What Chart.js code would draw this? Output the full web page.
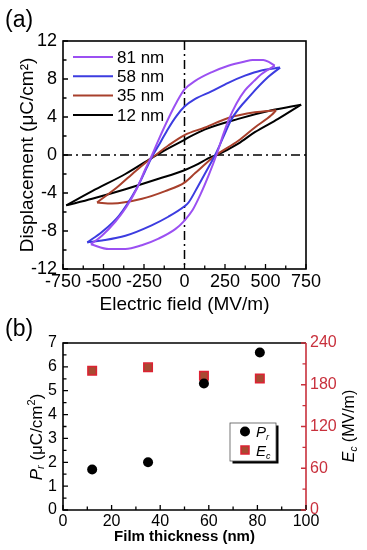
<!DOCTYPE html>
<html>
<head>
<meta charset="utf-8">
<script src="https://cdn.jsdelivr.net/npm/chart.js@4/dist/chart.umd.min.js"></script>
<style>
html,body{margin:0;padding:0;background:#fff;width:367px;height:550px;overflow:hidden}
#ca{position:absolute;left:0;top:0;width:367px;height:316px}
#cb{position:absolute;left:0;top:316px;width:367px;height:234px}
</style>
</head>
<body>
<canvas id="ca" width="367" height="316"></canvas>
<canvas id="cb" width="367" height="234"></canvas>
<script>
const FONT = "'Liberation Sans', Arial, Helvetica, sans-serif";

// ---------- Panel (a): D-E hysteresis loops (field in MV/m, displacement in µC/cm²) ----------
const field81Up   = [557, 520, 486, 420, 373, 270, 166, 66, 0, -47, -98, -160, -200, -242, -293, -360, -426, -510, -578];
const disp81Up    = [9.4, 9.8, 10.0, 10.0, 9.85, 9.4, 8.7, 7.8, 6.9, 5.6, 3.9, 1.6, 0, -1.5, -3.5, -5.5, -7.0, -8.5, -9.4];
const field81Down = [-578, -467, -365, -264, -160, -57, 0, 50, 100, 150, 197, 240, 270, 320, 373, 430, 474, 557];
const disp81Down  = [-9.4, -9.9, -9.9, -9.5, -8.8, -7.8, -6.9, -5.8, -4.1, -2.1, 0, 2.2, 3.6, 5.4, 6.8, 7.8, 8.5, 9.4];

const field58Up   = [590, 474, 373, 270, 166, 66, 0, -50, -100, -150, -195, -221, -295, -405, -510, -600];
const disp58Up    = [9.2, 8.9, 8.35, 7.6, 6.7, 5.9, 5.1, 4.1, 2.8, 1.3, 0, -0.9, -3.5, -6.4, -8.1, -9.2];
const field58Down = [-600, -510, -365, -203, -100, 0, 25, 86, 148, 189, 240, 291, 414, 516, 590];
const disp58Down  = [-9.2, -9.0, -8.5, -7.4, -6.5, -5.4, -5.0, -3.2, -1.3, 0, 1.9, 3.8, 6.4, 8.2, 9.2];

const field35Up   = [565, 434, 270, 127, 0, -100, -178, -221, -303, -416, -540];
const disp35Up    = [4.7, 4.5, 3.9, 2.9, 2.1, 1.0, 0, -0.55, -1.7, -3.4, -5.0];
const field35Down = [-540, -447, -262, -119, 0, 66, 166, 195, 332, 434, 537, 565];
const disp35Down  = [-5.0, -5.1, -4.6, -3.8, -2.9, -1.9, -0.4, 0, 1.5, 2.9, 4.2, 4.7];

const field12Up   = [720, 537, 332, 127, 25, 0, -100, -170, -201, -365, -570, -730];
const disp12Up    = [5.3, 4.7, 3.8, 2.7, 1.85, 1.6, 0.7, 0, -0.3, -2.0, -3.8, -5.3];
const field12Down = [-730, -570, -365, -160, 0, 66, 166, 199, 332, 434, 578, 720];
const disp12Down  = [-5.3, -4.6, -3.6, -2.5, -1.6, -1.1, -0.2, 0, 1.2, 2.4, 3.8, 5.3];

const loopLabels = ['81 nm', '58 nm', '35 nm', '12 nm'];

// ---------- Panel (b): remanent polarisation and coercive field vs thickness ----------
const thickness = [12, 35, 58, 81];
const prValues  = [1.7, 2.0, 5.3, 6.6];
const ecValues  = [200, 205, 193, 189];

// ---------- styles ----------
const loopColors = ['#9b50f2', '#3c3ce0', '#a8402c', '#000000'];
const RED = '#c8303c';

const pts = (xs, ys) => xs.map((x, i) => ({x, y: ys[i]}));
const loopData = [
  [[field81Up, disp81Up], [field81Down, disp81Down]],
  [[field58Up, disp58Up], [field58Down, disp58Down]],
  [[field35Up, disp35Up], [field35Down, disp35Down]],
  [[field12Up, disp12Up], [field12Down, disp12Down]]
];
const dsA = [];
loopData.forEach((branches, li) => {
  branches.forEach((b, bi) => {
    dsA.push({
      label: bi === 0 ? loopLabels[li] : '',
      data: pts(b[0], b[1]),
      borderColor: loopColors[li],
      backgroundColor: loopColors[li],
      borderWidth: 2,
      pointRadius: 0,
      cubicInterpolationMode: 'monotone',
      fill: false
    });
  });
});

function tickValues(min, max, step) {
  const out = [];
  for (let v = min; v <= max + 1e-9; v += step) out.push(+v.toFixed(6));
  return out;
}
function drawTicksX(ctx, scale, bottom, major, minor, color) {
  ctx.strokeStyle = color;
  ctx.lineWidth = 1.3;
  ctx.beginPath();
  tickValues(scale.min, scale.max, minor).forEach(v => {
    const isMajor = Math.abs(v / major - Math.round(v / major)) < 1e-6;
    const len = isMajor ? 5 : 3.5;
    const p = scale.getPixelForValue(v);
    ctx.moveTo(p, bottom); ctx.lineTo(p, bottom - len);
  });
  ctx.stroke();
}
function drawTicksY(ctx, scale, edge, dir, major, minor, color) {
  ctx.strokeStyle = color;
  ctx.lineWidth = 1.3;
  ctx.beginPath();
  tickValues(scale.min, scale.max, minor).forEach(v => {
    const isMajor = Math.abs(v / major - Math.round(v / major)) < 1e-6;
    const len = isMajor ? 5 : 3.5;
    const p = scale.getPixelForValue(v);
    ctx.moveTo(edge, p); ctx.lineTo(edge + dir * len, p);
  });
  ctx.stroke();
}

const decorA = {
  id: 'decorA',
  beforeDatasetsDraw(chart) {
    const {ctx, chartArea: a, scales: {x, y}} = chart;
    ctx.save();
    ctx.strokeStyle = '#000';
    ctx.lineWidth = 1.5;
    ctx.setLineDash([9, 4, 2, 4]);
    const x0 = x.getPixelForValue(0), y0 = y.getPixelForValue(0);
    ctx.beginPath();
    ctx.moveTo(x0, a.top); ctx.lineTo(x0, a.bottom);
    ctx.moveTo(a.left, y0); ctx.lineTo(a.right, y0);
    ctx.stroke();
    ctx.restore();
  },
  afterDraw(chart) {
    const {ctx, chartArea: a, scales: {x, y}} = chart;
    ctx.save();
    ctx.strokeStyle = '#000';
    ctx.lineWidth = 1.6;
    ctx.strokeRect(a.left, a.top, a.right - a.left, a.bottom - a.top);
    drawTicksX(ctx, x, a.bottom, 250, 125, '#000');
    drawTicksY(ctx, y, a.left, 1, 4, 2, '#000');
    // legend inside plot
    ctx.font = '17px ' + FONT;
    ctx.textBaseline = 'middle';
    ctx.textAlign = 'left';
    loopLabels.forEach((lab, i) => {
      const yy = a.top + 16 + i * 19.3;
      ctx.strokeStyle = loopColors[i];
      ctx.lineWidth = 2;
      ctx.beginPath();
      ctx.moveTo(a.left + 10, yy); ctx.lineTo(a.left + 50, yy);
      ctx.stroke();
      ctx.fillStyle = '#000';
      ctx.fillText(lab, a.left + 54, yy + 1);
    });
    // panel label
    ctx.font = '23px ' + FONT;
    ctx.textBaseline = 'alphabetic';
    ctx.fillText('(a)', 5, 27);
    ctx.restore();
  }
};

new Chart(document.getElementById('ca'), {
  type: 'line',
  data: {datasets: dsA},
  options: {
    responsive: false,
    animation: false,
    devicePixelRatio: 1,
    layout: {padding: {top: 41, right: 61, left: 0, bottom: 0}},
    plugins: {legend: {display: false}, tooltip: {enabled: false}},
    scales: {
      x: {
        type: 'linear', min: -750, max: 750,
        ticks: {stepSize: 250, autoSkip: false, maxRotation: 0, padding: 2, color: '#000', font: {family: FONT, size: 18}},
        grid: {display: false, drawTicks: false},
        border: {display: false},
        title: {display: true, text: 'Electric field (MV/m)', color: '#000', font: {family: FONT, size: 19}, padding: {top: 0, bottom: 0}},
        afterFit(s) { s.height = 47; }
      },
      y: {
        type: 'linear', min: -12, max: 12,
        ticks: {stepSize: 4, padding: 6, color: '#000', font: {family: FONT, size: 18}},
        grid: {display: false, drawTicks: false},
        border: {display: false},
        title: {display: true, text: 'Displacement (μC/cm²)', color: '#000', font: {family: FONT, size: 19}, padding: {top: 16, bottom: 0}},
        afterFit(s) { s.width = 63; }
      }
    }
  },
  plugins: [decorA]
});

// ---------- Panel (b) ----------
function drawRich(ctx, parts, cx, cy, rot) {
  ctx.save();
  ctx.translate(cx, cy);
  ctx.rotate(rot);
  let total = 0;
  parts.forEach(p => {
    ctx.font = (p.italic ? 'italic ' : '') + p.size + 'px ' + FONT;
    p.w = ctx.measureText(p.t).width;
    total += p.w;
  });
  let xx = -total / 2;
  ctx.textBaseline = 'middle';
  ctx.textAlign = 'left';
  parts.forEach(p => {
    ctx.font = (p.italic ? 'italic ' : '') + p.size + 'px ' + FONT;
    ctx.fillText(p.t, xx, (p.dy || 0));
    xx += p.w;
  });
  ctx.restore();
}

const decorB = {
  id: 'decorB',
  afterDraw(chart) {
    const {ctx, chartArea: a, scales: {x, y, y2}} = chart;
    ctx.save();
    ctx.lineWidth = 1.6;
    ctx.strokeStyle = '#000';
    ctx.beginPath();
    ctx.moveTo(a.right, a.top); ctx.lineTo(a.left, a.top); ctx.lineTo(a.left, a.bottom); ctx.lineTo(a.right, a.bottom);
    ctx.stroke();
    ctx.strokeStyle = RED;
    ctx.beginPath();
    ctx.moveTo(a.right, a.top); ctx.lineTo(a.right, a.bottom);
    ctx.stroke();
    drawTicksX(ctx, x, a.bottom, 20, 10, '#000');
    drawTicksY(ctx, y, a.left, 1, 1, 0.5, '#000');
    drawTicksY(ctx, y2, a.right, -1, 60, 30, RED);

    // axis titles
    ctx.fillStyle = '#000';
    drawRich(ctx, [
      {t: 'P', size: 17, italic: true},
      {t: 'r', size: 11, italic: true, dy: 4},
      {t: ' (μC/cm', size: 17},
      {t: '2', size: 11, dy: -5},
      {t: ')', size: 17}
    ], 37, 121, -Math.PI / 2);
    drawRich(ctx, [
      {t: 'E', size: 16, italic: true},
      {t: 'c', size: 10, italic: true, dy: 4},
      {t: ' (MV/m)', size: 16}
    ], 350, 110, -Math.PI / 2);

    // legend box with shadow
    const bx = 230, by = 107, bw = 46, bh = 38;
    ctx.fillStyle = '#000';
    ctx.fillRect(bx + 2.5, by + 2.5, bw, bh);
    ctx.fillStyle = '#fff';
    ctx.fillRect(bx, by, bw, bh);
    ctx.strokeStyle = '#555';
    ctx.lineWidth = 0.8;
    ctx.strokeRect(bx, by, bw, bh);
    ctx.fillStyle = '#000';
    ctx.beginPath();
    ctx.arc(bx + 15, by + 8.5, 5, 0, Math.PI * 2);
    ctx.fill();
    ctx.fillStyle = '#a84a32';
    ctx.strokeStyle = '#dd2233';
    ctx.lineWidth = 1.5;
    ctx.fillRect(bx + 11, by + 23, 8, 8);
    ctx.strokeRect(bx + 11, by + 23, 8, 8);
    ctx.fillStyle = '#000';
    ctx.textBaseline = 'alphabetic';
    ctx.textAlign = 'left';
    ctx.font = 'italic 15px ' + FONT;
    ctx.fillText('P', bx + 26, by + 14);
    ctx.fillText('E', bx + 26, by + 33);
    ctx.font = 'italic 9px ' + FONT;
    ctx.fillText('r', bx + 36, by + 17);
    ctx.fillText('c', bx + 36, by + 36);

    // panel label
    ctx.font = '23px ' + FONT;
    ctx.fillText('(b)', 5, 20);
    ctx.restore();
  }
};

new Chart(document.getElementById('cb'), {
  type: 'scatter',
  data: {
    datasets: [
      {
        label: 'Pr', data: pts(thickness, prValues), yAxisID: 'y',
        pointStyle: 'circle', pointRadius: 5, backgroundColor: '#000', borderColor: '#000', borderWidth: 0
      },
      {
        label: 'Ec', data: pts(thickness, ecValues), yAxisID: 'y2',
        pointStyle: 'rect', pointRadius: 6, backgroundColor: '#a84a32', borderColor: '#dd2233', borderWidth: 1.5
      }
    ]
  },
  options: {
    responsive: false,
    animation: false,
    devicePixelRatio: 1,
    layout: {padding: {top: 27, right: 0, left: 0, bottom: 0}},
    plugins: {legend: {display: false}, tooltip: {enabled: false}},
    scales: {
      x: {
        type: 'linear', min: 0, max: 100,
        ticks: {stepSize: 20, autoSkip: false, maxRotation: 0, padding: 2, color: '#000', font: {family: FONT, size: 16}},
        grid: {display: false, drawTicks: false},
        border: {display: false},
        title: {display: true, text: 'Film thickness (nm)', color: '#000', font: {family: FONT, size: 15, weight: 'bold'}, padding: {top: 0, bottom: 4}},
        afterFit(s) { s.height = 40; }
      },
      y: {
        type: 'linear', position: 'left', min: 0, max: 7,
        ticks: {stepSize: 1, padding: 6, color: '#000', font: {family: FONT, size: 16}},
        grid: {display: false, drawTicks: false},
        border: {display: false},
        afterFit(s) { s.width = 63; }
      },
      y2: {
        type: 'linear', position: 'right', min: 0, max: 240,
        ticks: {stepSize: 60, padding: 4, color: RED, font: {family: FONT, size: 16}},
        grid: {display: false, drawTicks: false},
        border: {display: false},
        afterFit(s) { s.width = 61; }
      }
    }
  },
  plugins: [decorB]
});
</script>
</body>
</html>
